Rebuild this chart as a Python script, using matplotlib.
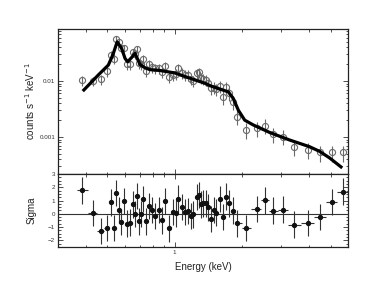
import numpy as np
import matplotlib
matplotlib.use("Agg")
import matplotlib.pyplot as plt
from matplotlib.ticker import LogLocator, NullFormatter, FixedLocator, FixedFormatter, MultipleLocator

plt.rcParams['font.family'] = ['Liberation Sans', 'DejaVu Sans']

# ---- data ----
energy = [0.386, 0.432, 0.468, 0.496, 0.520, 0.533, 0.547, 0.562, 0.577, 0.593,
          0.612, 0.633, 0.651, 0.662, 0.680, 0.694, 0.709, 0.724, 0.744, 0.768,
          0.789, 0.817, 0.848, 0.877, 0.905, 0.943, 0.980, 1.010, 1.038, 1.075,
          1.110, 1.150, 1.180, 1.215, 1.254, 1.284, 1.307, 1.340, 1.376, 1.410,
          1.450, 1.500, 1.540, 1.590, 1.650, 1.700, 1.750, 1.820, 1.910, 2.090,
          2.330, 2.530, 2.770, 3.050, 3.420, 3.940, 4.490, 5.070, 5.660]

flux = [0.0103, 0.0100, 0.0107, 0.0151, 0.0291, 0.0244, 0.0555, 0.0490, 0.0384, 0.0384,
        0.0199, 0.0199, 0.0325, 0.0300, 0.0372, 0.0207, 0.0199, 0.0244, 0.0151, 0.0199,
        0.0176, 0.0169, 0.0169, 0.0143, 0.0185, 0.0119, 0.0126, 0.0135, 0.0169, 0.0140,
        0.0128, 0.0128, 0.0107, 0.0102, 0.0137, 0.0143, 0.0112, 0.0109, 0.0104, 0.0091,
        0.0074, 0.0076, 0.0071, 0.0081, 0.0051, 0.0077, 0.0060, 0.0043, 0.0023, 0.00133,
        0.00143, 0.00159, 0.00113, 0.00102, 0.00067, 0.00059, 0.00053, 0.00053, 0.00053]

flux_err_frac = [0.22, 0.20, 0.22, 0.22, 0.18, 0.18, 0.14, 0.14, 0.15, 0.15,
                 0.20, 0.20, 0.17, 0.17, 0.16, 0.20, 0.20, 0.18, 0.22, 0.20,
                 0.20, 0.20, 0.20, 0.22, 0.20, 0.22, 0.22, 0.22, 0.20, 0.22,
                 0.22, 0.22, 0.22, 0.22, 0.22, 0.22, 0.22, 0.22, 0.22, 0.22,
                 0.24, 0.24, 0.24, 0.24, 0.28, 0.24, 0.26, 0.28, 0.30, 0.32,
                 0.30, 0.30, 0.30, 0.30, 0.32, 0.32, 0.32, 0.32, 0.32]

sigma = [1.76, 0.05, -1.30, -1.07, 0.87, -1.07, 1.56, 0.28, -0.63, 0.97,
         -0.73, -0.66, 0.72, 0.00, 1.35, -0.56, 0.00, 1.12, -0.56, 0.59,
         0.28, -0.15, 0.28, -0.50, 0.95, -1.09, 0.13, 0.03, 1.15, 0.51,
         0.13, 0.20, -0.18, -0.05, 1.25, 1.43, 0.72, 0.79, 0.79, 0.49,
         -0.38, 0.28, 0.08, 1.12, -0.25, 1.30, 0.79, 0.23, -0.71, -1.07,
         0.36, 1.02, 0.23, 0.31, -0.81, -0.69, -0.23, 0.90, 1.68]

model_energy = [0.388, 0.455, 0.505, 0.530, 0.553, 0.579, 0.600, 0.616, 0.640, 0.665,
                0.700, 0.736, 0.776, 0.845, 1.000, 1.190, 1.370, 1.460, 1.740, 1.830,
                1.930, 2.060, 2.250, 2.670, 3.280, 4.020, 4.470, 4.950, 5.630]
model_flux = [0.0066, 0.0128, 0.0193, 0.030, 0.050, 0.0384, 0.0254, 0.0221, 0.026, 0.0312,
              0.0198, 0.0173, 0.0160, 0.0156, 0.0140, 0.0110, 0.0091, 0.0081, 0.0064, 0.0049,
              0.0030, 0.0020, 0.00164, 0.00120, 0.00088, 0.00067, 0.00055, 0.00042, 0.00028]

y_ticks = [0.001, 0.01]
y_tick_labels = ["0.001", "0.01"]
sig_ticks = [-2, -1, 0, 1, 2, 3]

# ---- derived bin half-widths (geometric midpoints between neighbours) ----
e = np.array(energy)
mid = np.sqrt(e[1:] * e[:-1])
lo_edge = np.concatenate([[e[0] ** 2 / mid[0]], mid])
hi_edge = np.concatenate([mid, [e[-1] ** 2 / mid[-1]]])
xerr = np.vstack([e - lo_edge, hi_edge - e])
f = np.array(flux)
ferr = f * np.array(flux_err_frac)

fig = plt.figure(figsize=(3.88, 2.91), dpi=100)
ax1 = fig.add_axes([0.149, 0.4021, 0.749, 0.498])
ax2 = fig.add_axes([0.149, 0.1512, 0.749, 0.2509], sharex=ax1)

gray = '#6a6a6a'
ax1.errorbar(e, f, yerr=ferr, fmt='o', ms=4.4, mfc='none', mec=gray, mew=0.8,
             ecolor=gray, elinewidth=0.8, capsize=0, zorder=2)
ax1.plot(model_energy, model_flux, color='black', lw=2.3, zorder=3,
         solid_capstyle='butt')

ax2.errorbar(e, sigma, xerr=xerr, yerr=1.0, fmt='o', ms=2.8, mfc='#111111',
             mec='#111111', ecolor='#333333', elinewidth=0.8, capsize=0, zorder=2)
ax2.axhline(0, color='#333333', lw=0.8, zorder=1)

for ax in (ax1, ax2):
    ax.set_xscale('log')
    ax.set_xlim(0.3, 6.0)
    ax.tick_params(which='both', direction='in', top=True, right=True,
                   width=0.6, labelsize=4.5, pad=2, colors='#333333')
    ax.tick_params(which='major', length=3.5)
    ax.tick_params(which='minor', length=1.8)
    for s in ax.spines.values():
        s.set_linewidth(0.9)
        s.set_color('#222222')

ax1.set_yscale('log')
ax1.set_ylim(2.18e-4, 0.085)
ax1.yaxis.set_major_locator(FixedLocator(y_ticks))
ax1.yaxis.set_major_formatter(FixedFormatter(y_tick_labels))
ax1.yaxis.set_minor_locator(LogLocator(base=10, subs=np.arange(2, 10)))
ax1.yaxis.set_minor_formatter(NullFormatter())
ax1.tick_params(axis='x', labelbottom=False)

ax2.set_ylim(-2.5, 3.0)
ax2.yaxis.set_major_locator(FixedLocator(sig_ticks))
ax2.yaxis.set_minor_locator(MultipleLocator(0.25))

ax2.xaxis.set_major_locator(FixedLocator([1.0]))
ax2.xaxis.set_major_formatter(FixedFormatter(["1"]))
ax2.xaxis.set_minor_locator(LogLocator(base=10, subs=np.arange(2, 10)))
ax2.xaxis.set_minor_formatter(NullFormatter())

ax1.set_ylabel(r"counts s$^{-1}$ keV$^{-1}$", fontsize=7, color='#222222')
ax2.set_ylabel("Sigma", fontsize=7, color='#222222')
ax2.set_xlabel("Energy (keV)", fontsize=7, labelpad=5, color='#222222')
ax1.yaxis.set_label_coords(-0.072, 0.5)
ax2.yaxis.set_label_coords(-0.072, 0.5)

fig.savefig("out.png", dpi=100)
